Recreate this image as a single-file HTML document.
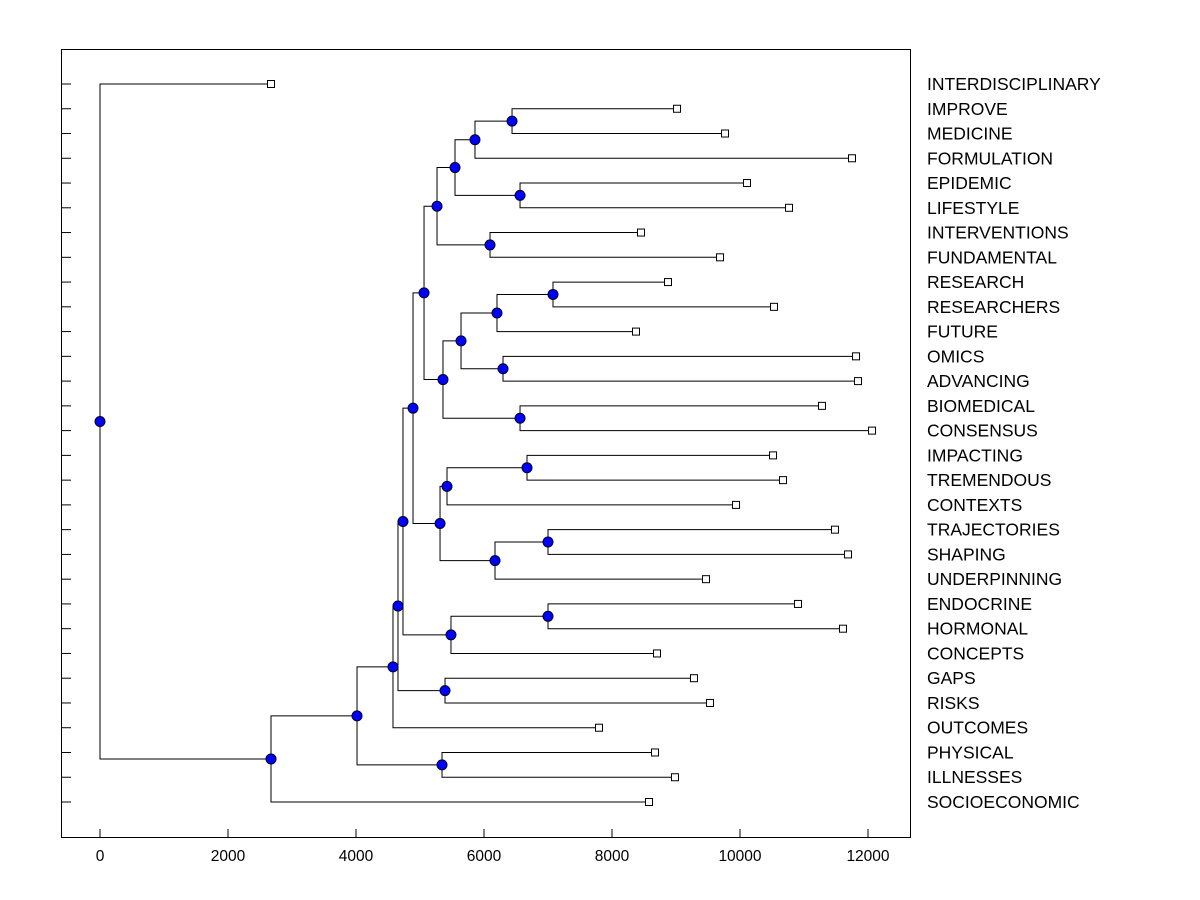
<!DOCTYPE html>
<html><head><meta charset="utf-8"><style>
body{margin:0;background:#fff;}
svg{display:block;font-family:"Liberation Sans",Arial,sans-serif;}
</style></head><body>
<svg id="chart" width="1200" height="900">
<rect x="61.5" y="49.5" width="849" height="788" fill="none" stroke="#000"/>
<g id="g"></g>
</svg>
<script>
const leafNames=["INTERDISCIPLINARY","IMPROVE","MEDICINE","FORMULATION","EPIDEMIC","LIFESTYLE","INTERVENTIONS","FUNDAMENTAL","RESEARCH","RESEARCHERS","FUTURE","OMICS","ADVANCING","BIOMEDICAL","CONSENSUS","IMPACTING","TREMENDOUS","CONTEXTS","TRAJECTORIES","SHAPING","UNDERPINNING","ENDOCRINE","HORMONAL","CONCEPTS","GAPS","RISKS","OUTCOMES","PHYSICAL","ILLNESSES","SOCIOECONOMIC"];
const leafValues=[2672,9016,9766,11750,10109,10766,8453,9688,8875,10531,8375,11813,11844,11281,12063,10516,10672,9938,11484,11688,9469,10906,11609,8703,9281,9531,7797,8672,8984,8578];
const mergeLeft=[1,30,4,31,6,33,8,36,11,37,13,39,35,15,43,18,45,44,42,21,49,48,24,51,53,27,54,56,0];
const mergeRight=[2,3,5,32,7,34,9,10,12,38,14,40,41,16,17,19,20,46,47,22,23,50,25,52,26,28,55,29,57];
const mergeHeights=[6438,5859,6563,5547,6094,5266,7078,6203,6297,5641,6563,5359,5063,6672,5422,7000,6172,5313,4891,7000,5484,4734,5391,4656,4578,5344,4016,2672,0];
const xTicks=[0,2000,4000,6000,8000,10000,12000];

const NS="http://www.w3.org/2000/svg";
const g=document.getElementById('g');
const xs=v=>100+v*0.064;
const ys=i=>84+i*(802-84)/(leafNames.length-1);
function mk(t,a){const e=document.createElementNS(NS,t);for(const k in a)e.setAttribute(k,a[k]);g.appendChild(e);return e;}
const X=[],Y=[];
leafNames.forEach((n,i)=>{X[i]=xs(leafValues[i]);Y[i]=ys(i);});
const N=leafNames.length;
mergeHeights.forEach((h,k)=>{const id=N+k;X[id]=xs(h);Y[id]=(Y[mergeLeft[k]]+Y[mergeRight[k]])/2;});
mergeHeights.forEach((h,k)=>{
  const id=N+k,a=mergeLeft[k],b=mergeRight[k];
  const p=mk('path',{d:`M${X[a]},${Y[a]}H${X[id]}V${Y[b]}H${X[b]}`,fill:'none',stroke:'#000','stroke-width':1});
  
  
});
leafNames.forEach((n,i)=>{
  const t=mk('line',{x1:61,x2:71,y1:Y[i],y2:Y[i],stroke:'#000'});
  
  
  const r=mk('rect',{x:X[i]-3.5,y:Y[i]-3.5,width:7,height:7,fill:'#fff',stroke:'#000'});
  
  
  const tx=mk('text',{x:927,y:Y[i]+6,'font-size':17.5});
  tx.textContent=n;
  
  
});
mergeHeights.forEach((h,k)=>{
  const id=N+k;
  const c=mk('circle',{cx:X[id],cy:Y[id],r:5,fill:'#0000ff',stroke:'#000020','stroke-width':1});
  
  
});
xTicks.forEach(v=>{
  const l=mk('line',{x1:xs(v),x2:xs(v),y1:829,y2:837,stroke:'#000'});
  
  
  const t=mk('text',{x:xs(v),y:861,'font-size':15.5,'text-anchor':'middle'});
  t.textContent=v;
  
  
});
</script>
</body></html>
